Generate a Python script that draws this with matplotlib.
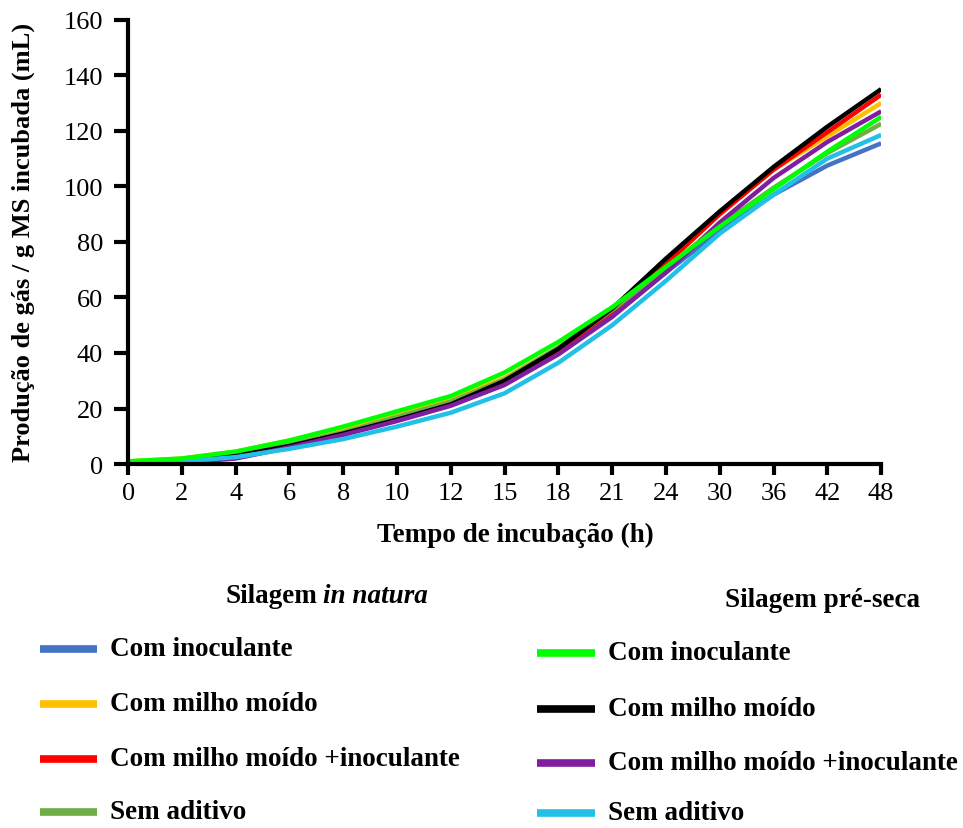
import numpy as np
import matplotlib.pyplot as plt
from matplotlib.lines import Line2D

plt.rcParams['font.family'] = ['Liberation Serif', 'DejaVu Serif']

# -----------------------------------------------------------------------------
# Data (gas production, mL / g MS incubated)
horas = ['0', '2', '4', '6', '8', '10', '12', '15', '18', '21', '24', '30', '36', '42', '48']

# Silagem in natura
nat_inoc = [0.5, 1, 3, 6.5, 11, 16, 21.5, 29, 40, 53.5, 69, 84, 97, 107.5, 115.5]
nat_milho = [1, 2, 4.5, 8.5, 13, 18.5, 23.5, 31, 42, 56, 72, 90, 106, 118, 130]
nat_milho_inoc = [0.5, 1, 3, 6.5, 11, 16, 21.5, 29.5, 41, 55, 72, 90, 106, 119.5, 133]
nat_sem = [0.5, 1.5, 3.5, 7, 11.5, 17, 22.5, 30.5, 42, 55.5, 70.5, 86, 99.5, 112, 122.5]

# Silagem pre-seca
pre_inoc = [1, 2, 4.5, 8.5, 13.5, 19, 24.5, 33, 44, 56.5, 71, 85.5, 99, 112.5, 125]
pre_milho = [0.5, 1, 3, 6.5, 11, 16, 21.5, 30, 41.5, 56, 74, 91, 107, 121.5, 135]
pre_milho_inoc = [0.5, 0.5, 2, 6, 10.5, 15.5, 21, 28.5, 39.5, 53, 69, 87, 103, 116, 127]
pre_sem = [0.5, 1, 2.5, 5.5, 9, 13.5, 18.5, 25.5, 36.5, 50, 66, 83, 97, 110, 118.5]

labels = ['Com inoculante', 'Com milho moído', 'Com milho moído +inoculante', 'Sem aditivo']
nat_series = [nat_inoc, nat_milho, nat_milho_inoc, nat_sem]
pre_series = [pre_inoc, pre_milho, pre_milho_inoc, pre_sem]
nat_colors = ['#4472C4', '#FFC000', '#FF0000', '#70AD47']
pre_colors = ['#00FF00', '#000000', '#7F1FA0', '#22BFE6']

# -----------------------------------------------------------------------------
fig = plt.figure(figsize=(9.63, 8.29), dpi=100)
ax = fig.add_axes([0.133, 0.439, 0.782, 0.536])

x = np.arange(len(horas))
lw = 3.2
for y, c in zip(nat_series, nat_colors):
    ax.plot(x, y, '-', color=c, linewidth=lw, solid_capstyle='butt')
# draw order so that green ends up on top, like the original
for i in [1, 2, 3, 0]:
    ax.plot(x, pre_series[i], '-', color=pre_colors[i], linewidth=lw, solid_capstyle='butt')

ax.set_xlim(0, 14)
ax.set_ylim(0, 160)
ax.set_xticks(x)
ax.set_xticklabels(horas)
ax.set_yticks(np.arange(0, 161, 20))
ax.spines['top'].set_visible(False)
ax.spines['right'].set_visible(False)
ax.spines['left'].set_linewidth(3)
ax.spines['bottom'].set_linewidth(3)
ax.tick_params(axis='both', width=3, labelsize=19, colors='black')
ax.tick_params(axis='y', length=10, pad=8)
ax.tick_params(axis='x', length=8, pad=5)

ax.set_ylabel('Produção de gás / g MS incubada (mL)', fontsize=19, fontweight='bold')
ax.yaxis.set_label_coords(-0.124, 0.5)
ax.set_xlabel('Tempo de incubação (h)', fontsize=19.5, fontweight='bold')
ax.xaxis.set_label_coords(0.514, -0.13)

# -----------------------------------------------------------------------------
# Legend, drawn by hand (two columns with headers)
W, H = 963.0, 829.0
fs_leg = 19.5
fig.text(317 / W, 1 - 597 / H, 'Silagem', fontsize=fs_leg, fontweight='bold', ha='right', va='center')
fig.text(323 / W, 1 - 597 / H, 'in natura', fontsize=fs_leg, fontweight='bold', style='italic', ha='left', va='center')
fig.text(822 / W, 1 - 601 / H, 'Silagem pré-seca', fontsize=fs_leg, fontweight='bold', ha='center', va='center')

rows_l = [650, 705, 760, 813]
rows_r = [654, 710, 764, 814]
for i in range(4):
    yl = 1 - rows_l[i] / H
    fig.add_artist(Line2D([40 / W, 97 / W], [yl, yl], color=nat_colors[i], linewidth=5.5, solid_capstyle='butt'))
    fig.text(110 / W, yl, labels[i], fontsize=fs_leg, fontweight='bold', ha='left', va='center')
    yr = 1 - rows_r[i] / H
    fig.add_artist(Line2D([537 / W, 595 / W], [yr, yr], color=pre_colors[i], linewidth=5.5, solid_capstyle='butt'))
    fig.text(608 / W, yr, labels[i], fontsize=fs_leg, fontweight='bold', ha='left', va='center')

plt.savefig('out.png', dpi=100)
